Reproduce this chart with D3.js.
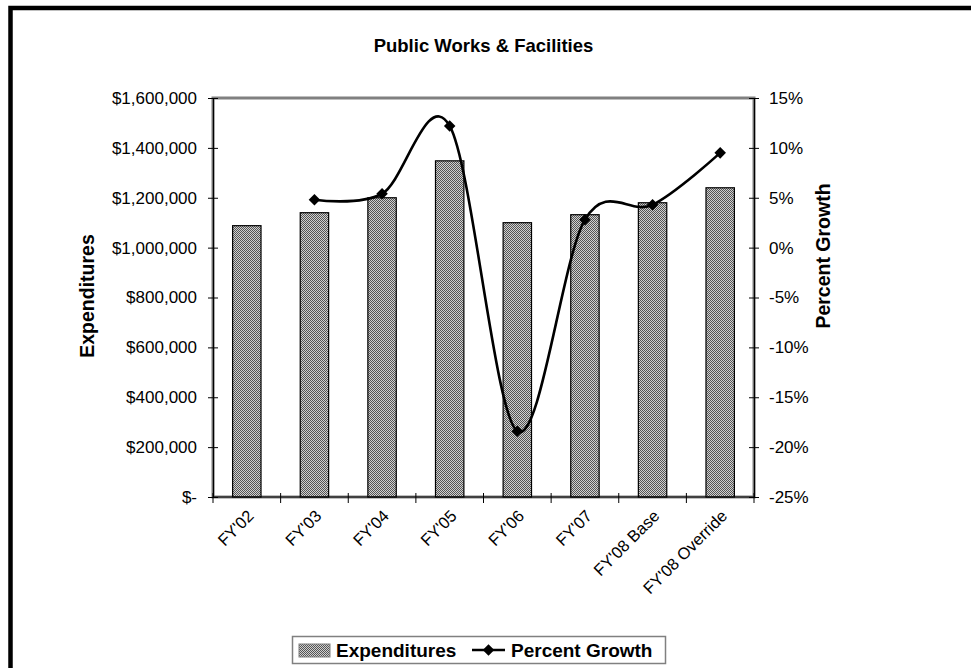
<!DOCTYPE html>
<html>
<head>
<meta charset="utf-8">
<script src="https://cdn.jsdelivr.net/npm/d3@7"></script>
<style>
  html, body { margin: 0; padding: 0; background: #fff; }
  svg { display: block; font-family: "Liberation Sans", Arial, sans-serif; }
</style>
</head>
<body>
<svg id="chart" width="971" height="668"></svg>
<script>
// Fiscal years and the two series plotted against them
const categories = ["FY'02", "FY'03", "FY'04", "FY'05", "FY'06", "FY'07", "FY'08 Base", "FY'08 Override"];
const expenditures = [1088000, 1140000, 1200000, 1348000, 1100000, 1132000, 1180000, 1240000];
const percentGrowth = [null, 4.8, 5.4, 12.2, -18.4, 2.8, 4.3, 9.5];
const leftTicks = [0, 200000, 400000, 600000, 800000, 1000000, 1200000, 1400000, 1600000];
const rightTicks = [-25, -20, -15, -10, -5, 0, 5, 10, 15];

const svg = d3.select("#chart");
const plot = { left: 213, right: 754, top: 98, bottom: 497 };

// Outer chart frame
svg.append("rect")
  .attr("x", 10.5).attr("y", 8).attr("width", 990).attr("height", 700)
  .attr("fill", "#fff").attr("stroke", "#000").attr("stroke-width", 4.5);

// Checker fill used by the bars
const defs = svg.append("defs");
const pat = defs.append("pattern").attr("id", "checker")
  .attr("patternUnits", "userSpaceOnUse").attr("width", 2).attr("height", 2);
pat.append("rect").attr("width", 2).attr("height", 2).attr("fill", "#d0d0d0");
pat.append("rect").attr("x", 0).attr("y", 0).attr("width", 1).attr("height", 1).attr("fill", "#555");
pat.append("rect").attr("x", 1).attr("y", 1).attr("width", 1).attr("height", 1).attr("fill", "#555");

const x = d3.scaleBand().domain(categories).range([plot.left, plot.right]).paddingInner(0).paddingOuter(0);
const yL = d3.scaleLinear().domain([0, 1600000]).range([plot.bottom, plot.top]);
const yR = d3.scaleLinear().domain([-25, 15]).range([plot.bottom, plot.top]);

// Title
svg.append("text")
  .attr("x", (plot.left + plot.right) / 2).attr("y", 52)
  .attr("text-anchor", "middle").attr("font-weight", "bold").attr("font-size", 18.5)
  .text("Public Works & Facilities");

// Plot area border
svg.append("rect")
  .attr("x", plot.left).attr("y", plot.top)
  .attr("width", plot.right - plot.left).attr("height", plot.bottom - plot.top)
  .attr("fill", "none").attr("stroke", "#808080").attr("stroke-width", 3);

// Bars
const barW = x.bandwidth() * 0.42;
svg.append("g").selectAll("rect").data(categories).join("rect")
  .attr("x", (d) => x(d) + (x.bandwidth() - barW) / 2)
  .attr("y", (d, i) => yL(expenditures[i]))
  .attr("width", barW)
  .attr("height", (d, i) => plot.bottom - yL(expenditures[i]))
  .attr("fill", "url(#checker)").attr("stroke", "#000").attr("stroke-width", 1.2);

// Axes
const money = (v) => v === 0 ? "$-" : "$" + d3.format(",")(v);
const leftAxis = d3.axisLeft(yL).tickValues(leftTicks).tickFormat(money).tickSizeInner(5).tickSizeOuter(0).tickPadding(11);
const gL = svg.append("g").attr("transform", `translate(${plot.left},0)`).call(leftAxis);
gL.selectAll(".tick line").attr("x2", 5).attr("x1", -5);

const rightAxis = d3.axisRight(yR).tickValues(rightTicks).tickFormat((v) => v + "%").tickSizeInner(5).tickSizeOuter(0).tickPadding(10);
const gR = svg.append("g").attr("transform", `translate(${plot.right},0)`).call(rightAxis);
gR.selectAll(".tick line").attr("x1", -5).attr("x2", 5);

const boundaries = d3.range(categories.length + 1).map((i) => plot.left + i * x.step());
const gB = svg.append("g");
gB.append("line").attr("x1", plot.left).attr("x2", plot.right).attr("y1", plot.bottom).attr("y2", plot.bottom)
  .attr("stroke", "#000").attr("stroke-width", 1.2);
gB.selectAll("line.tk").data(boundaries).join("line").attr("class", "tk")
  .attr("x1", (d) => d).attr("x2", (d) => d)
  .attr("y1", plot.bottom - 4).attr("y2", plot.bottom + 6)
  .attr("stroke", "#000");

[gL, gR].forEach((g) => {
  g.select(".domain").attr("stroke", "#000").attr("stroke-width", 1.2);
  g.selectAll(".tick line").attr("stroke", "#000");
  g.selectAll(".tick text").attr("font-size", 17).attr("fill", "#000")
    .attr("font-family", "'Liberation Sans', Arial, sans-serif");
});

// Category labels, slanted
svg.append("g").selectAll("text").data(categories).join("text")
  .attr("transform", (d) => `translate(${x(d) + x.bandwidth() / 2 + 1},${plot.bottom + 13}) rotate(-45)`)
  .attr("text-anchor", "end").attr("dy", "0.6em").attr("font-size", 16.5)
  .text((d) => d);

// Axis titles
svg.append("text")
  .attr("transform", `translate(${94},${296}) rotate(-90)`)
  .attr("text-anchor", "middle").attr("font-weight", "bold").attr("font-size", 19.5)
  .text("Expenditures");
svg.append("text")
  .attr("transform", `translate(${830},${256}) rotate(-90)`)
  .attr("text-anchor", "middle").attr("font-weight", "bold").attr("font-size", 19.5)
  .text("Percent Growth");

// Growth line (smoothed) with diamond markers
const pts = categories.map((c, i) => ({ c, v: percentGrowth[i] })).filter((d) => d.v !== null);
const line = d3.line()
  .x((d) => x(d.c) + x.bandwidth() / 2)
  .y((d) => yR(d.v))
  .curve(d3.curveCardinal.tension(0));
svg.append("path").datum(pts).attr("d", line)
  .attr("fill", "none").attr("stroke", "#000").attr("stroke-width", 2.6);
const diamond = d3.symbol().type(d3.symbolDiamond2).size(85);
svg.append("g").selectAll("path").data(pts).join("path")
  .attr("transform", (d) => `translate(${x(d.c) + x.bandwidth() / 2},${yR(d.v)})`)
  .attr("d", diamond).attr("fill", "#000");

// Legend
const lg = svg.append("g");
lg.append("rect").attr("x", 292.5).attr("y", 636.5).attr("width", 373).attr("height", 27)
  .attr("fill", "#fff").attr("stroke", "#808080").attr("stroke-width", 1.5);
lg.append("rect").attr("x", 299).attr("y", 644).attr("width", 31).attr("height", 13)
  .attr("fill", "url(#checker)").attr("stroke", "#808080").attr("stroke-width", 1);
lg.append("text").attr("x", 336).attr("y", 657).attr("font-weight", "bold").attr("font-size", 19)
  .text("Expenditures");
lg.append("line").attr("x1", 472).attr("x2", 505).attr("y1", 650).attr("y2", 650)
  .attr("stroke", "#000").attr("stroke-width", 2.6);
lg.append("path").attr("transform", "translate(488.5,650)").attr("d", diamond).attr("fill", "#000");
lg.append("text").attr("x", 511).attr("y", 657).attr("font-weight", "bold").attr("font-size", 19)
  .text("Percent Growth");
</script>
</body>
</html>
